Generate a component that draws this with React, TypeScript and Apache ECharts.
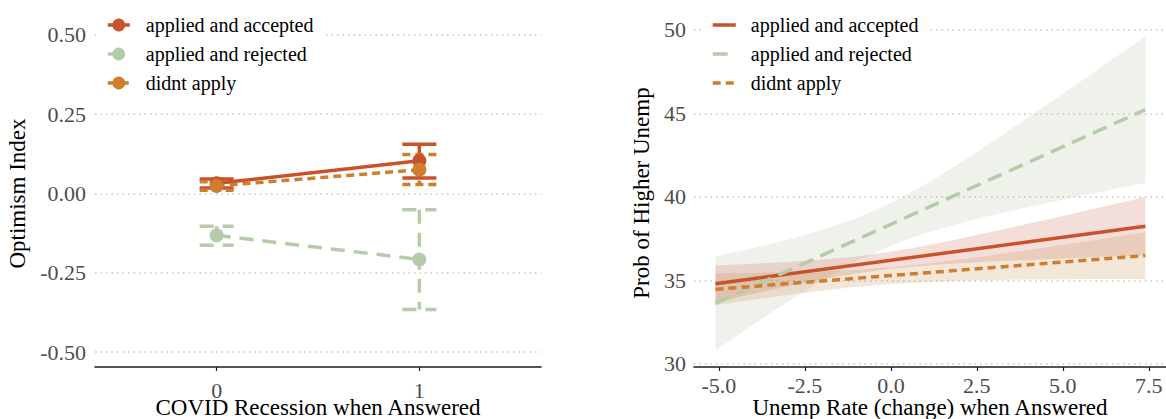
import React, { useEffect, useRef } from "react";
import * as echarts from "echarts";

const FONT = "'Liberation Serif', 'Times New Roman', serif";

// Groups shared by both panels
const groups = ["applied and accepted", "applied and rejected", "didnt apply"];
const lineColors = ["#C9522A", "#B5CCAA", "#D07D2D"];
const bandColors = ["rgba(200,90,70,0.2)", "rgba(175,190,150,0.2)", "rgba(195,135,70,0.2)"];
const leftDash = [null, [14, 9], [8, 5]];
const rightDash = [null, [15, 8], [8, 5]];

// Left panel: optimism index by COVID recession indicator
const covidLevels = [0, 1];
const optimismTicks = [-0.5, -0.25, 0, 0.25, 0.5];
const acceptedMean = [0.032, 0.103];
const acceptedLow = [0.017, 0.049];
const acceptedHigh = [0.046, 0.155];
const rejectedMean = [-0.132, -0.208];
const rejectedLow = [-0.163, -0.366];
const rejectedHigh = [-0.103, -0.051];
const didntMean = [0.024, 0.075];
const didntLow = [0.01, 0.028];
const didntHigh = [0.037, 0.123];

// Right panel: probability of higher unemployment vs unemployment rate change
const unempTicks = [-5, -2.5, 0, 2.5, 5, 7.5];
const probTicks = [30, 35, 40, 45, 50];
const fitX = [-5.1, 7.4];
const acceptedFit = [34.8, 38.25];
const rejectedFit = [33.63, 45.23];
const didntFit = [34.47, 36.49];
const bandX = [-5.1, -4, -3, -2, -1, 0, 1, 2, 3, 4, 5, 6, 7.4];
const acceptedBandLow = [33.7, 34.21, 34.65, 35.07, 35.42, 35.7, 35.9, 36.03, 36.15, 36.23, 36.32, 36.4, 36.5];
const acceptedBandHigh = [35.9, 36.0, 36.11, 36.25, 36.44, 36.72, 37.08, 37.49, 37.94, 38.39, 38.86, 39.34, 40.0];
const rejectedBandLow = [30.83, 32.36, 33.72, 35.0, 36.15, 37.09, 37.83, 38.42, 38.93, 39.4, 39.83, 40.26, 40.85];
const rejectedBandHigh = [36.44, 36.94, 37.44, 38.02, 38.73, 39.63, 40.75, 42.02, 43.37, 44.77, 46.17, 47.6, 49.61];
const didntBandLow = [33.51, 33.85, 34.13, 34.39, 34.62, 34.79, 34.9, 34.99, 35.03, 35.06, 35.07, 35.08, 35.09];
const didntBandHigh = [35.43, 35.45, 35.49, 35.55, 35.64, 35.79, 36.0, 36.25, 36.53, 36.83, 37.13, 37.44, 37.89];

const tickColor = "#4d4d4d";
const gridLine = { show: true, lineStyle: { type: [1.5, 4], color: "#c6c6c6", width: 1.5 } };
const axisLineStyle = { color: "#1e1e1e", width: 1.6 };

function errorBarSeries(i: number, low: number[], high: number[]) {
  const color = lineColors[i];
  const dash = leftDash[i];
  return {
    type: "custom",
    name: groups[i] + " interval",
    z: 2,
    silent: true,
    data: covidLevels.map((x, k) => [x, low[k], high[k]]),
    encode: { x: 0, y: [1, 2] },
    renderItem: (_params: any, api: any) => {
      const x = api.value(0);
      const top = api.coord([x, api.value(2)]);
      const bottom = api.coord([x, api.value(1)]);
      const half = 17;
      const style: any = { stroke: color, lineWidth: 3.5, fill: null };
      if (dash) style.lineDash = dash;
      return {
        type: "group",
        children: [
          { type: "line", shape: { x1: top[0], y1: top[1], x2: bottom[0], y2: bottom[1] }, style },
          { type: "line", shape: { x1: top[0] - half, y1: top[1], x2: top[0] + half, y2: top[1] }, style },
          { type: "line", shape: { x1: bottom[0] - half, y1: bottom[1], x2: bottom[0] + half, y2: bottom[1] }, style },
        ],
      };
    },
  };
}

function meanSeries(i: number, mean: number[]) {
  return {
    type: "line",
    name: groups[i],
    z: 3,
    data: covidLevels.map((x, k) => [x, mean[k]]),
    symbol: "circle",
    symbolSize: 14,
    itemStyle: { color: lineColors[i] },
    lineStyle: { color: lineColors[i], width: 3.5, type: leftDash[i] || "solid" },
  };
}

function bandSeries(i: number, low: number[], high: number[]) {
  return {
    type: "custom",
    name: groups[i] + " band",
    z: 1,
    silent: true,
    data: [[bandX[0], low[0]]],
    encode: { x: 0, y: 1 },
    renderItem: (_params: any, api: any) => {
      const upper = bandX.map((x, k) => api.coord([x, high[k]]));
      const lower = bandX.map((x, k) => api.coord([x, low[k]])).reverse();
      return {
        type: "polygon",
        shape: { points: upper.concat(lower) },
        style: { fill: bandColors[i] },
      };
    },
  };
}

function fitSeries(i: number, fit: number[]) {
  return {
    type: "line",
    name: groups[i],
    z: 3,
    data: fitX.map((x, k) => [x, fit[k]]),
    symbol: "none",
    itemStyle: { color: lineColors[i] },
    lineStyle: { color: lineColors[i], width: 3.5, type: rightDash[i] || "solid" },
  };
}

function leftOption(): any {
  return {
    animation: false,
    textStyle: { fontFamily: FONT },
    grid: { left: 95, top: 20, width: 446, height: 347, outerBoundsMode: "none", containLabel: false },
    legend: {
      orient: "vertical",
      left: 96,
      top: 10,
      padding: [5, 10, 5, 10],
      backgroundColor: "#fff",
      itemWidth: 22,
      itemHeight: 16,
      itemGap: 9,
      lineStyle: { width: 3.5 },
      textStyle: { fontFamily: FONT, fontSize: 20, color: "#000", lineHeight: 20, padding: [0, 0, 0, 11] },
      data: groups,
    },
    xAxis: {
      type: "value",
      min: -0.6,
      max: 1.6,
      name: "COVID Recession when Answered",
      nameLocation: "middle",
      nameGap: 29,
      nameMoveOverlap: false,
      nameTextStyle: { fontFamily: FONT, fontSize: 23, color: "#000" },
      axisLine: { show: true, onZero: false, lineStyle: axisLineStyle },
      axisTick: { show: true, customValues: covidLevels, length: 4, lineStyle: { color: "#1e1e1e", width: 1.2 } },
      axisLabel: { customValues: covidLevels, fontFamily: FONT, fontSize: 22, color: tickColor, margin: 12 },
      splitLine: { show: false },
    },
    yAxis: {
      type: "value",
      min: -0.5473,
      max: 0.5473,
      name: "Optimism Index",
      nameLocation: "middle",
      nameGap: 62,
      nameTextStyle: { fontFamily: FONT, fontSize: 23, color: "#000" },
      axisLine: { show: false },
      axisTick: { show: false, customValues: optimismTicks },
      axisLabel: {
        customValues: optimismTicks,
        fontFamily: FONT,
        fontSize: 22,
        color: tickColor,
        margin: 9,
        formatter: (v: number) => v.toFixed(2),
      },
      splitLine: gridLine,
    },
    series: [
      errorBarSeries(0, acceptedLow, acceptedHigh),
      errorBarSeries(1, rejectedLow, rejectedHigh),
      errorBarSeries(2, didntLow, didntHigh),
      meanSeries(0, acceptedMean),
      meanSeries(1, rejectedMean),
      meanSeries(2, didntMean),
    ],
  };
}

function rightOption(): any {
  return {
    animation: false,
    textStyle: { fontFamily: FONT },
    grid: { left: 111, top: 19, width: 472, height: 348, outerBoundsMode: "none", containLabel: false },
    legend: {
      orient: "vertical",
      left: 118,
      top: 10,
      padding: [5, 10, 5, 10],
      backgroundColor: "#fff",
      itemWidth: 23,
      itemHeight: 14,
      itemGap: 9,
      itemStyle: { opacity: 0 },
      lineStyle: { width: 3.5 },
      textStyle: { fontFamily: FONT, fontSize: 20, color: "#000", lineHeight: 20, padding: [0, 0, 0, 10] },
      data: groups,
    },
    xAxis: {
      type: "value",
      min: -5.725,
      max: 8.0,
      name: "Unemp Rate (change) when Answered",
      nameLocation: "middle",
      nameGap: 29,
      nameMoveOverlap: false,
      nameTextStyle: { fontFamily: FONT, fontSize: 23, color: "#000" },
      axisLine: { show: true, onZero: false, lineStyle: axisLineStyle },
      axisTick: { show: true, customValues: unempTicks, length: 4, lineStyle: { color: "#1e1e1e", width: 1.2 } },
      axisLabel: {
        customValues: unempTicks,
        fontFamily: FONT,
        fontSize: 22,
        color: tickColor,
        margin: 7,
        formatter: (v: number) => v.toFixed(1),
      },
      splitLine: { show: false },
    },
    yAxis: {
      type: "value",
      min: 29.82,
      max: 50.65,
      name: "Prob of Higher Unemp",
      nameLocation: "middle",
      nameGap: 36,
      nameTextStyle: { fontFamily: FONT, fontSize: 23, color: "#000" },
      axisLine: { show: false },
      axisTick: { show: false, customValues: probTicks },
      axisLabel: {
        customValues: probTicks,
        fontFamily: FONT,
        fontSize: 22,
        color: tickColor,
        margin: 8,
        formatter: (v: number) => String(Math.round(v)),
      },
      splitLine: gridLine,
    },
    series: [
      bandSeries(1, rejectedBandLow, rejectedBandHigh),
      bandSeries(0, acceptedBandLow, acceptedBandHigh),
      bandSeries(2, didntBandLow, didntBandHigh),
      fitSeries(0, acceptedFit),
      fitSeries(1, rejectedFit),
      fitSeries(2, didntFit),
    ],
  };
}

function Panel({ left, width, option }: { left: number; width: number; option: () => any }) {
  const ref = useRef<HTMLDivElement>(null);
  useEffect(() => {
    if (!ref.current) return;
    const chart = echarts.init(ref.current, undefined, { renderer: "svg" });
    chart.setOption(option());
    return () => chart.dispose();
  }, [option]);
  return <div ref={ref} style={{ position: "absolute", left, top: 0, width, height: 419 }} />;
}

export default function App() {
  return (
    <div style={{ position: "absolute", left: 0, top: 0, width: 1166, height: 419, background: "#fff", overflow: "hidden" }}>
      <Panel left={0} width={583} option={leftOption} />
      <Panel left={583} width={583} option={rightOption} />
    </div>
  );
}
